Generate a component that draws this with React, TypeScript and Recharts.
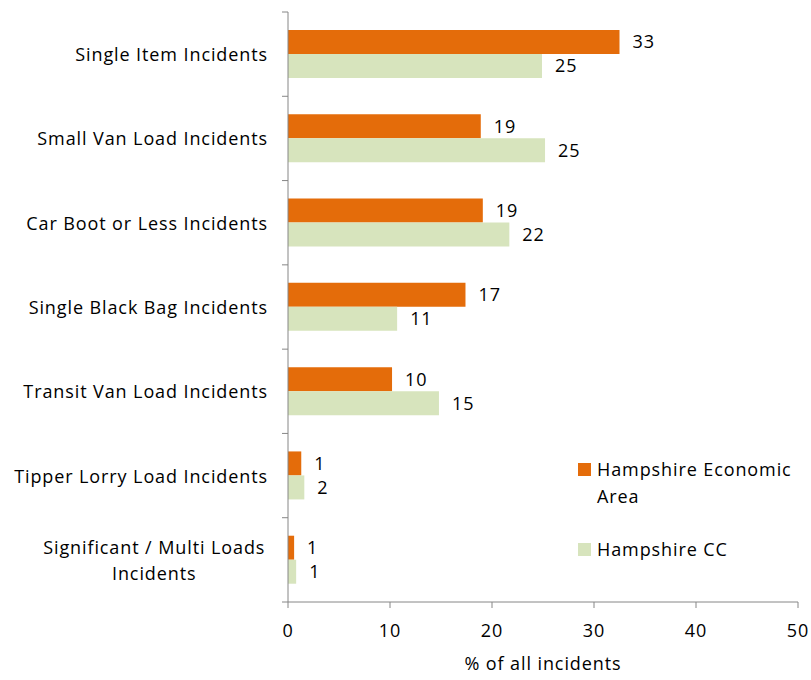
import React from 'react';
import { BarChart, Bar, XAxis, YAxis, LabelList } from 'recharts';

const FONT = "'Open Sans', sans-serif";
const FS = 18;
const LS = 0.9;

const categories = [
  'Single Item Incidents',
  'Small Van Load Incidents',
  'Car Boot or Less Incidents',
  'Single Black Bag Incidents',
  'Transit Van Load Incidents',
  'Tipper Lorry Load Incidents',
  'Significant / Multi Loads Incidents',
];
const economicArea = [32.5, 18.9, 19.1, 17.4, 10.2, 1.3, 0.6];
const hampshireCC = [24.9, 25.2, 21.7, 10.7, 14.8, 1.6, 0.8];
const xTicks = [0, 10, 20, 30, 40, 50];
const seriesNames = ['Hampshire Economic Area', 'Hampshire CC'];
const colors = ['#E46C0A', '#D7E4BD'];

const data = categories.map((c, i) => ({ name: c, a: economicArea[i], b: hampshireCC[i] }));

const W = 811;
const H = 680;
const XH = 70;
const MARGIN = { top: 12, right: 13, bottom: 8, left: 0 };
const YW = 288;
const BAND = (H - MARGIN.top - MARGIN.bottom - XH) / categories.length;
const AXIS = '#868686';

function wrap(text: string, max: number): string[] {
  const words = text.split(' ');
  const lines: string[] = [];
  let cur = '';
  for (const w of words) {
    const t = cur ? cur + ' ' + w : w;
    if (t.length > max && cur) {
      lines.push(cur);
      cur = w;
    } else cur = t;
  }
  if (cur) lines.push(cur);
  return lines;
}

const YTick = (props: any) => {
  const { y, payload, index } = props;
  const lines = wrap(String(payload.value), 27);
  const right = MARGIN.left + YW - 20;
  const lh = 26;
  const maxLen = Math.max(...lines.map((l) => l.length));
  const cx = right - (maxLen * 9.1) / 2;
  const top = y - ((lines.length - 1) * lh) / 2;
  const ax = MARGIN.left + YW;
  const multi = lines.length > 1;
  return (
    <g>
      <line x1={ax - 6} x2={ax} y1={y - BAND / 2} y2={y - BAND / 2} stroke={AXIS} />
      {index === categories.length - 1 && (
        <line x1={ax - 6} x2={ax} y1={y + BAND / 2} y2={y + BAND / 2} stroke={AXIS} />
      )}
      <text
        x={multi ? cx : right}
        y={top}
        textAnchor={multi ? 'middle' : 'end'}
        dominantBaseline="central"
        fontFamily={FONT}
        fontSize={FS}
        letterSpacing={LS}
        fill="#000"
      >
        {lines.map((l, i) => (
          <tspan key={i} x={multi ? cx : right} dy={i === 0 ? 0 : lh}>
            {l}
          </tspan>
        ))}
      </text>
    </g>
  );
};

const fmt = (v: any) => Math.round(Number(v));

export default function App() {
  return (
    <div style={{ position: 'absolute', left: 0, top: 0, width: W, height: H, background: '#fff' }}>
      <BarChart width={W} height={H} data={data} layout="vertical" margin={MARGIN} barGap={0}>
        <XAxis
          type="number"
          domain={[0, 50]}
          ticks={xTicks}
          interval={0}
          height={XH}
          stroke={AXIS}
          tickSize={6}
          tickMargin={16}
          tick={{ fill: '#000', fontSize: FS, fontFamily: FONT, letterSpacing: LS }}
          label={{ value: '% of all incidents', position: 'insideBottom', offset: 2, fill: '#000', fontSize: FS, fontFamily: FONT, letterSpacing: LS }}
        />
        <YAxis
          type="category"
          dataKey="name"
          width={YW}
          stroke={AXIS}
          tickLine={false}
          interval={0}
          tick={<YTick />}
        />
        <Bar dataKey="a" name={seriesNames[0]} fill={colors[0]} barSize={24} isAnimationActive={false}>
          <LabelList dataKey="a" position="right" offset={13} formatter={fmt} fill="#000" fontSize={FS} fontFamily={FONT} letterSpacing={LS} />
        </Bar>
        <Bar dataKey="b" name={seriesNames[1]} fill={colors[1]} barSize={24} isAnimationActive={false}>
          <LabelList dataKey="b" position="right" offset={13} formatter={fmt} fill="#000" fontSize={FS} fontFamily={FONT} letterSpacing={LS} />
        </Bar>
      </BarChart>
      <div
        style={{
          position: 'absolute',
          left: 578,
          top: 456,
          width: 233,
          fontFamily: FONT,
          fontSize: FS,
          letterSpacing: LS,
          color: '#000',
        }}
      >
        {seriesNames.map((n, i) => (
          <div key={n} style={{ position: 'relative', paddingLeft: 19, marginBottom: i === 0 ? 26 : 0, lineHeight: '27px' }}>
            <span style={{ position: 'absolute', left: 0, top: 7, width: 13, height: 13, background: colors[i] }} />
            {i === 0 ? (
              <>
                Hampshire Economic
                <br />
                Area
              </>
            ) : (
              n
            )}
          </div>
        ))}
      </div>
    </div>
  );
}
